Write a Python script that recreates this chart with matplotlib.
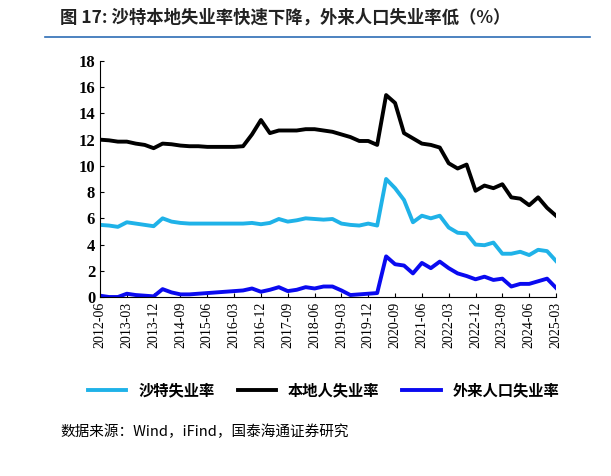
import matplotlib
matplotlib.use("Agg")
import matplotlib.pyplot as plt
import pandas as pd

plt.rcParams['font.family'] = ['Noto Sans CJK SC', 'DejaVu Sans']

dates = pd.period_range("2012-06", "2025-03", freq="Q")
tick_labels = [str(p.asfreq("M", how="end")) for p in dates][::3]

local = [12.0, 11.95, 11.85, 11.85, 11.7, 11.6, 11.35, 11.7, 11.65, 11.55, 11.5, 11.5,
         11.45, 11.45, 11.45, 11.45, 11.5, 12.4, 13.5, 12.5, 12.7, 12.7, 12.7, 12.8,
         12.8, 12.7, 12.6, 12.4, 12.2, 11.9, 11.9, 11.6, 15.4, 14.8, 12.5, 12.1,
         11.7, 11.6, 11.4, 10.2, 9.8, 10.1, 8.1, 8.5, 8.3, 8.6, 7.6, 7.5, 7.0, 7.6, 6.8, 6.2]
saudi = [5.5, 5.45, 5.35, 5.7, 5.6, 5.5, 5.4, 6.0, 5.75, 5.65, 5.6, 5.6,
         5.6, 5.6, 5.6, 5.6, 5.6, 5.65, 5.55, 5.65, 5.95, 5.75, 5.85, 6.0,
         5.95, 5.9, 5.95, 5.6, 5.5, 5.45, 5.6, 5.45, 9.0, 8.3, 7.4, 5.7,
         6.2, 6.0, 6.2, 5.3, 4.9, 4.85, 4.0, 3.95, 4.15, 3.3, 3.3, 3.45, 3.2, 3.6, 3.5, 2.75]
foreign = [0.1, 0.0, 0.0, 0.25, 0.15, 0.1, 0.05, 0.6, 0.35, 0.2, 0.2, 0.25,
           0.3, 0.35, 0.4, 0.45, 0.5, 0.65, 0.4, 0.55, 0.75, 0.45, 0.55, 0.75,
           0.65, 0.8, 0.8, 0.5, 0.15, 0.2, 0.25, 0.3, 3.1, 2.5, 2.4, 1.8,
           2.6, 2.2, 2.7, 2.2, 1.8, 1.6, 1.35, 1.55, 1.3, 1.4, 0.8, 1.0, 1.0, 1.2, 1.4, 0.7]

x = list(range(len(dates)))

fig = plt.figure(figsize=(6.11, 4.76), dpi=100)
ax = fig.add_axes([100 / 611, 1 - 297 / 476, 456 / 611, 236 / 476])
ax.plot(x, saudi, color="#1fb2e8", lw=2.8, label="沙特失业率")
ax.plot(x, local, color="black", lw=2.8, label="本地人失业率")
ax.plot(x, foreign, color="#0a0af0", lw=2.8, label="外来人口失业率")

ax.set_xlim(0, len(x) - 1)
ax.set_ylim(0, 18)
ax.set_yticks(range(0, 19, 2))
ax.set_xticks(x[::3])
ax.set_xticklabels(tick_labels, rotation=90, fontsize=10, fontfamily="Liberation Serif")
for t in ax.get_yticklabels():
    t.set_fontfamily("Liberation Serif")
    t.set_fontweight("bold")
    t.set_fontsize(12)
ax.tick_params(axis="x", direction="in", length=3)
ax.tick_params(axis="y", direction="in", length=3)
for s in ["top", "right"]:
    ax.spines[s].set_visible(False)

fig.legend(loc="center", bbox_to_anchor=(0.53, 1 - 390 / 476), ncol=3, frameon=False,
           fontsize=11, handlelength=2.5, columnspacing=1.5,
           prop={"family": ["Noto Sans CJK SC"], "weight": "bold", "size": 11})

fig.text(60 / 611, 1 - 18 / 476, "图 17: 沙特本地失业率快速下降，外来人口失业率低（%）",
         fontsize=12.5, fontweight="bold", va="center", color="#222222")
fig.add_artist(plt.Line2D([45 / 611, 590 / 611], [1 - 37 / 476] * 2, color="#2e6db5", lw=1.2))
fig.text(60 / 611, 1 - 432 / 476, "数据来源：Wind，iFind，国泰海通证券研究",
         fontsize=10.5, va="center")

fig.savefig("out.png", dpi=100)
